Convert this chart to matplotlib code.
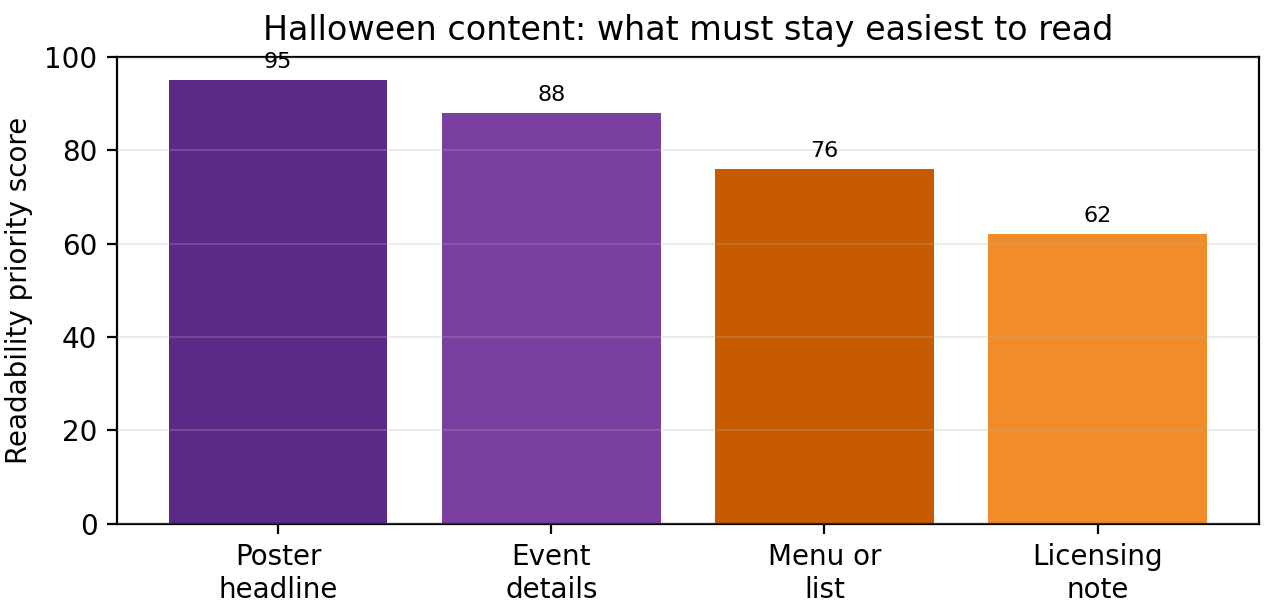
import matplotlib
matplotlib.use("Agg")
import matplotlib.pyplot as plt

categories = ["Poster\nheadline", "Event\ndetails", "Menu or\nlist", "Licensing\nnote"]
values = [95, 88, 76, 62]
colors = ["#5b2a86", "#7b3fa0", "#c65b00", "#f28c28"]

fig = plt.figure(figsize=(6.39, 3.06), dpi=200)
ax = fig.add_axes([0.0915, 0.144, 0.8935, 0.763])
bars = ax.bar(range(len(values)), values, color=colors, width=0.8)
ax.set_xticks(range(len(values)))
ax.set_xticklabels(categories)
ax.set_ylim(0, 100)
ax.set_ylabel("Readability priority score")
ax.set_title("Halloween content: what must stay easiest to read")
ax.yaxis.grid(True, alpha=0.3, linewidth=0.6)
ax.set_axisbelow(False)
for b, v in zip(bars, values):
    ax.annotate(str(v), (b.get_x() + b.get_width() / 2, v), xytext=(0, 3),
                textcoords="offset points", ha="center", va="bottom", fontsize=8)
fig.savefig("out.png", dpi=200)
